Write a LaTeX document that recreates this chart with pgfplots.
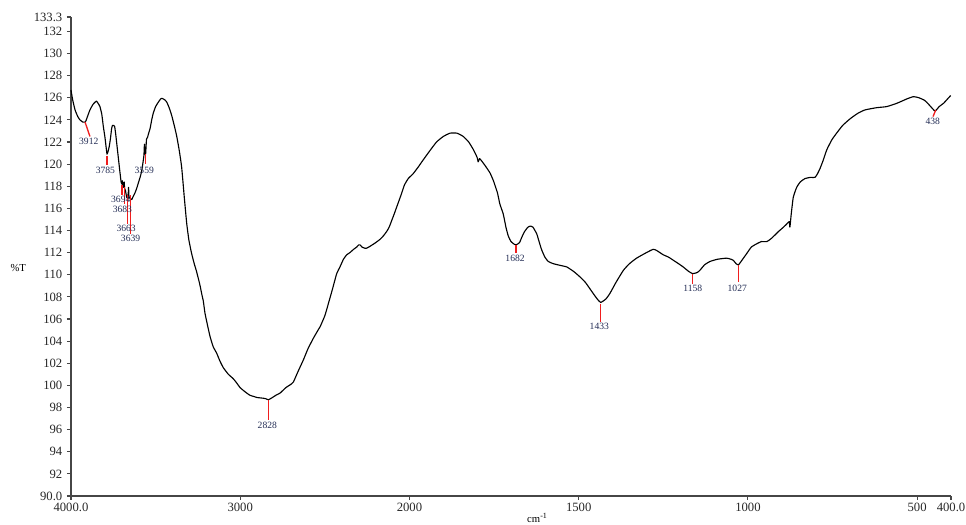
\documentclass[border=0pt]{standalone}
\usepackage{fontspec}
\setmainfont{Liberation Serif}
\usepackage{pgfplots}
\usepackage{pgfplotstable}
\pgfplotsset{compat=1.18}
\definecolor{axgray}{RGB}{70,70,70}
\definecolor{lblnavy}{RGB}{35,45,85}
\definecolor{pkred}{RGB}{240,30,30}

\pgfplotstableread{
wn T
4000 126.7
3990 125.8
3976 124.9
3960 124.3
3947 124.0
3930 123.8
3917 123.8
3912 123.9
3905 124.2
3888 124.9
3870 125.4
3858 125.6
3850 125.7
3840 125.5
3829 125.2
3818 124.5
3809 123.4
3800 122.5
3793 121.6
3787 120.9
3780 121.2
3774 121.6
3767 122.3
3760 123.2
3755 123.5
3748 123.5
3742 123.4
3740 123.2
3735 122.6
3730 121.9
3722 120.8
3714 119.7
3708 118.9
3704 118.4
3700 118.2
3697 118.5
3694 118.0
3690 117.9
3686 118.4
3683 117.8
3678 117.6
3671 117.0
3667 117.2
3663 116.9
3660 117.9
3657 117.0
3650 116.9
3641 116.8
3635 117.0
3622 117.4
3612 117.8
3602 118.3
3590 118.9
3582 119.4
3575 120.1
3569 120.8
3566 121.8
3563 121.0
3559 120.9
3555 122.0
3553 122.3
3548 122.4
3543 122.7
3533 123.2
3523 124.0
3514 124.6
3500 125.2
3484 125.6
3470 125.9
3464 125.95
3455 125.9
3445 125.8
3434 125.6
3420 125.1
3405 124.4
3390 123.5
3375 122.5
3360 121.2
3346 119.7
3330 116.9
3316 114.6
3303 113.1
3287 111.9
3270 110.9
3260 110.4
3240 109.2
3228 108.3
3218 107.6
3208 106.5
3190 105.2
3178 104.4
3160 103.5
3139 102.9
3120 102.2
3100 101.6
3070 101.0
3041 100.6
3020 100.2
3001 99.8
2970 99.4
2942 99.1
2920 99.0
2900 98.9
2870 98.85
2850 98.8
2834 98.7
2810 98.9
2790 99.1
2765 99.3
2730 99.8
2700 100.1
2686 100.3
2660 101.2
2627 102.3
2600 103.3
2570 104.2
2540 105.0
2528 105.3
2500 106.3
2479 107.4
2455 108.7
2430 110.1
2411 110.7
2390 111.4
2371 111.8
2352 112.0
2330 112.3
2312 112.5
2300 112.7
2292 112.7
2280 112.5
2264 112.4
2253 112.4
2230 112.6
2200 112.9
2174 113.2
2155 113.5
2135 113.9
2120 114.3
2105 114.9
2090 115.5
2076 116.1
2050 117.2
2030 118.1
2007 118.7
1990 119.1
1975 119.7
1959 120.4
1940 121.2
1920 122.0
1900 122.5
1880 122.8
1860 122.8
1841 122.5
1825 122.0
1811 121.3
1800 120.6
1797 120.2
1793 120.5
1787 120.3
1775 119.8
1762 119.2
1752 118.5
1740 117.4
1733 116.4
1723 115.5
1715 114.3
1708 113.5
1700 113.0
1690 112.75
1685 112.7
1675 112.9
1668 113.4
1660 113.9
1650 114.3
1642 114.4
1635 114.3
1624 113.7
1619 113.2
1610 112.3
1600 111.6
1590 111.2
1575 111.0
1555 110.85
1535 110.7
1515 110.3
1496 109.8
1480 109.3
1457 108.3
1445 107.8
1435 107.5
1420 107.8
1408 108.3
1390 109.3
1368 110.4
1350 111.0
1329 111.5
1300 112.0
1280 112.3
1270 112.2
1260 112.0
1250 111.8
1235 111.6
1220 111.3
1205 111.0
1191 110.7
1175 110.3
1163 110.1
1150 110.2
1142 110.4
1128 110.9
1112 111.2
1090 111.4
1063 111.5
1050 111.4
1043 111.3
1035 111.0
1028 110.9
1018 111.3
1004 111.9
990 112.5
974 112.8
960 113.0
944 113.0
930 113.3
910 113.9
895 114.3
885 114.6
878 114.8
876 114.3
872 115.5
866 117.0
856 117.9
845 118.4
831 118.7
815 118.8
802 118.8
795 119.1
787 119.6
777 120.4
767 121.3
752 122.2
738 122.8
720 123.5
698 124.1
675 124.6
654 124.9
620 125.1
590 125.2
560 125.5
530 125.9
511 126.1
495 126.0
480 125.8
472 125.6
460 125.2
447 124.8
435 125.2
422 125.5
410 125.9
401 126.2
}\spectrum

\begin{document}
\begin{tikzpicture}
\begin{axis}[
  scale only axis,
  width=660pt, height=359.25pt,
  xmin=0, xmax=5200,
  ymin=90, ymax=133.3,
  x filter/.expression={x>=2000 ? 4000-x : 6000-2*x},
  axis lines=left,
  axis line style={-, axgray, line width=1.1pt},
  tick style={axgray, line width=0.8pt},
  tick align=outside,
  major tick length=3pt,
  xtick={0,1000,2000,3000,4000,5000,5200},
  xticklabels={4000.0,3000,2000,1500,1000,500,400.0},
  ytick={90,92,94,96,98,100,102,104,106,108,110,112,114,116,118,120,122,124,126,128,130,132,133.3},
  yticklabels={90.0,92,94,96,98,100,102,104,106,108,110,112,114,116,118,120,122,124,126,128,130,132,133.3},
  ticklabel style={font=\fontsize{9.5}{10}\selectfont, text=black!85},
  xticklabel style={yshift=1pt},
  ylabel={\%T},
  ylabel style={rotate=-90, at={(axis description cs:-0.060,0.476)}, anchor=center, font=\fontsize{8}{9}\selectfont},
  xlabel={cm\textsuperscript{-1}},
  xlabel style={at={(axis description cs:0.53,-0.057)}, anchor=south, inner sep=0.5pt, font=\fontsize{8}{9}\selectfont},
  clip=false,
]
\addplot[black, line width=0.85pt, no markers, smooth, tension=0.3, line join=round] table[x=wn, y=T] {\spectrum};
% peak marker lines
\addplot[pkred, line width=1pt, forget plot] coordinates {(3917,123.8) (3888,122.5)};
\addplot[pkred, line width=1pt, forget plot] coordinates {(3787,120.7) (3787,119.9)};
\addplot[pkred, line width=1pt, forget plot] coordinates {(3699,118.1) (3699,117.2)};
\addplot[pkred, line width=1pt, forget plot] coordinates {(3685,117.9) (3685,116.4)};
\addplot[pkred, line width=1pt, forget plot] coordinates {(3667,117.2) (3667,114.6)};
\addplot[pkred, line width=1pt, forget plot] coordinates {(3647,117.2) (3647,113.7)};
\addplot[pkred, line width=1pt, forget plot] coordinates {(3561,120.9) (3561,120.0)};
\addplot[pkred, line width=1pt, forget plot] coordinates {(2834,98.7) (2834,96.9)};
\addplot[pkred, line width=1pt, forget plot] coordinates {(1685,112.7) (1685,112.0)};
\addplot[pkred, line width=1pt, forget plot] coordinates {(1435,107.4) (1435,105.7)};
\addplot[pkred, line width=1pt, forget plot] coordinates {(1163,110.1) (1163,109.2)};
\addplot[pkred, line width=1pt, forget plot] coordinates {(1028,110.9) (1028,109.3)};
\addplot[pkred, line width=1pt, forget plot] coordinates {(445,124.9) (453,124.3)};
% peak labels
\begin{scope}[every node/.style={font=\fontsize{7.2}{8}\selectfont, text=lblnavy, inner sep=0pt}]
\node at (axis cs:105,122.1) {3912};
\node at (axis cs:203,119.45) {3785};
\node at (axis cs:294,116.8) {3694};
\node at (axis cs:304,115.9) {3683};
\node at (axis cs:326,114.15) {3663};
\node at (axis cs:352,113.25) {3639};
\node at (axis cs:433,119.45) {3559};
\node at (axis cs:1160,96.4) {2828};
\node at (axis cs:2624,111.5) {1682};
\node at (axis cs:3122,105.3) {1433};
\node at (axis cs:3674,108.8) {1158};
\node at (axis cs:3937,108.8) {1027};
\node at (axis cs:5092,123.9) {438};
\end{scope}
\coordinate (ll) at (rel axis cs:0,0);
\coordinate (ur) at (rel axis cs:1,1);
\end{axis}
\pgfresetboundingbox
\path[use as bounding box] ([xshift=-53.25pt,yshift=-21pt]ll) rectangle ([xshift=11.25pt,yshift=12.75pt]ur);
\end{tikzpicture}
\end{document}
